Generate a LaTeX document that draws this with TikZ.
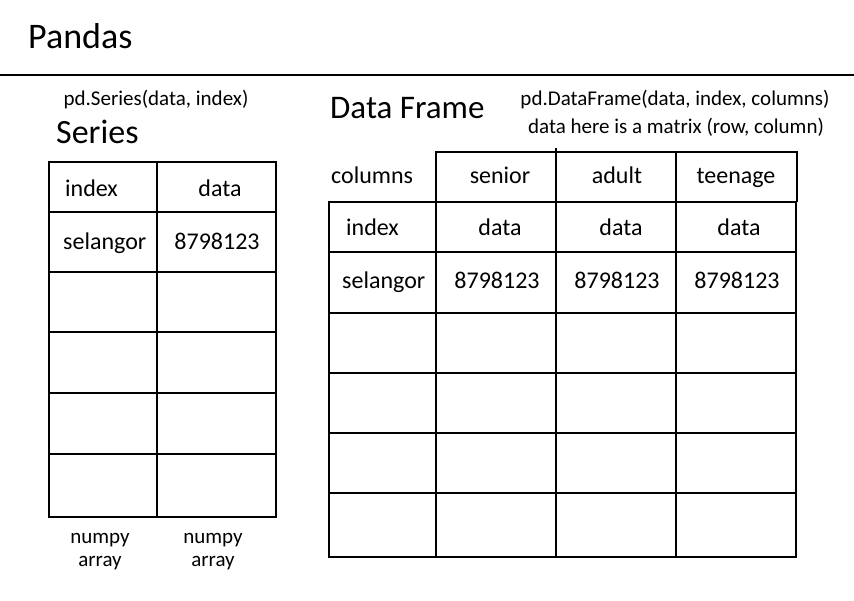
\documentclass[tikz,border=0pt]{standalone}
\usepackage{fontspec}
\setmainfont{Carlito}
\begin{document}
\begin{tikzpicture}[x=1pt,y=-1pt,
  outer/.style={line width=1.8pt},
  inner/.style={line width=1.3pt},
  cell/.style={font=\fontsize{24}{28}\selectfont, inner sep=0pt, anchor=base},
  note/.style={font=\fontsize{21}{25}\selectfont, inner sep=0pt, anchor=base},
  heading/.style={font=\fontsize{34}{38}\selectfont, inner sep=0pt, anchor=base west}]
\useasboundingbox[fill=white] (0,0) rectangle (854,600);

% title and rule
\node[heading, font=\fontsize{36}{40}\selectfont] (title) at (28,48) {Pandas};
\coordinate (ruleL) at (0,75);
\coordinate (ruleR) at (854,75);
\draw[line width=2pt] (ruleL) -- (ruleR);

% ---------- Series ----------
\node[note] (sercall) at (156,105) {pd.Series(data, index)};
\node[heading] (sertitle) at (56,143) {Series};

\foreach \y in {212,272,332,393,454}
  \draw[inner] (49,\y) -- (276,\y);
\draw[inner] (157,162) -- (157,517);
\draw[outer] (49,162) rectangle (276,517);

\node[cell, anchor=base west] (sidx) at (65,196) {index};
\node[cell] (sdat) at (220,196) {data};
\node[cell, anchor=base west] (srow) at (63,249) {selangor};
\node[cell] (sval) at (217,249) {8798123};

\node[note] (np1) at (100,543) {numpy};
\node[note] (np1b) at (100,566) {array};
\node[note] (np2) at (213,543) {numpy};
\node[note] (np2b) at (213,566) {array};

% ---------- DataFrame ----------
\node[heading, font=\fontsize{33}{37}\selectfont] (dftitle) at (330,118) {Data Frame};
\node[note] (dfcall) at (675,105) {pd.DataFrame(data, index, columns)};
\node[note] (dfnote) at (676,133) {data here is a matrix (row, column)};

% column header strip
\draw[outer] (436,202) -- (436,152) -- (797,152) -- (797,202);
\draw[inner] (556,148) -- (556,202);
\draw[inner] (676,152) -- (676,202);

% body grid
\foreach \y in {252,313,373,433,493}
  \draw[inner] (329,\y) -- (796,\y);
\foreach \x in {436,556,676}
  \draw[inner] (\x,202) -- (\x,557);
\draw[outer] (329,202) rectangle (796,557);

\node[cell, anchor=base west] (dfcols) at (331,183) {columns};
\node[cell] (hsen) at (500,183) {senior};
\node[cell] (hadu) at (617,183) {adult};
\node[cell] (htee) at (736,183) {teenage};

\node[cell, anchor=base west] (didx) at (346,235) {index};
\node[cell] (dd1) at (500,235) {data};
\node[cell] (dd2) at (621,235) {data};
\node[cell] (dd3) at (739,235) {data};

\node[cell, anchor=base west] (drow) at (342,288) {selangor};
\node[cell] (dv1) at (497,288) {8798123};
\node[cell] (dv2) at (617,288) {8798123};
\node[cell] (dv3) at (737,288) {8798123};
\end{tikzpicture}
\end{document}
